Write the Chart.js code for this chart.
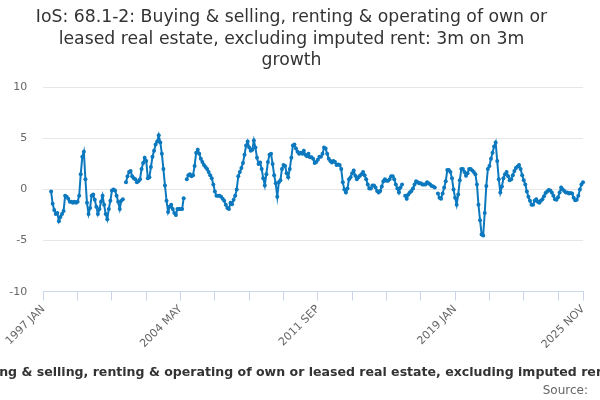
<!DOCTYPE html>
<html>
<head>
<meta charset="utf-8">
<script src="https://cdn.jsdelivr.net/npm/chart.js@4.4.1/dist/chart.umd.min.js"></script>
<style>
    html, body { margin: 0; padding: 0; background: #fff; }
</style>
</head>
<body>
<canvas id="growthChart" width="600" height="400"></canvas>
<script>
const monthNames = ["JAN", "FEB", "MAR", "APR", "MAY", "JUN", "JUL", "AUG", "SEP", "OCT", "NOV", "DEC"];
const firstYear = 1997;
const lastYear = 2025;
const lastMonth = 11;

// one label per month, 1997 JAN .. 2025 NOV
const categories = [];
for (let y = firstYear; y <= lastYear; y++) {
    for (let m = 0; m < 12; m++) {
        if (y === lastYear && m >= lastMonth) break;
        categories.push(y + " " + monthNames[m]);
    }
}

// 3m on 3m growth, % (null = no value)
const growth = [
    null, null, null, null, null, -0.2, -1.4, -2.0, -2.4, -2.3, -3.1, -2.7,   // 1997
    -2.4, -2.1, -0.6, -0.7, -0.9, -1.2, -1.2, -1.3, -1.2, -1.3, -1.2, -0.6,   // 1998
    1.5, 3.2, 3.7, 1.0, -1.3, -2.4, -1.8, -0.6, -0.5, -1.0, -1.7, -2.4,       // 1999
    -1.9, -1.2, -0.6, -1.5, -2.4, -2.9, -1.9, -1.1, -0.1, 0.0, -0.1, -0.6,    // 2000
    -1.2, -1.9, -1.1, -0.95, null, 0.7, 1.3, 1.7, 1.8, 1.3, 1.1, 1.0,         // 2001
    0.7, 0.8, 1.0, 2.0, 2.6, 3.1, 2.8, 1.1, 1.2, 2.2, 3.2, 3.8,               // 2002
    4.4, 4.7, 5.3, 4.6, 3.5, 2.0, 0.4, -1.1, -2.2, -1.7, -1.5, -1.9,          // 2003
    -2.3, -2.5, -1.9, -1.9, -1.9, -1.9, -0.85, null, 1.0, 1.4, 1.5, 1.3,      // 2004
    1.4, 2.3, 3.6, 3.9, 3.5, 3.0, 2.7, 2.4, 2.2, 2.0, 1.7, 1.4,               // 2005
    1.1, 0.5, -0.2, -0.6, -0.6, -0.6, -0.7, -0.9, -1.1, -1.5, -1.8, -1.9,     // 2006
    -1.3, -1.45, -1.0, -0.6, 0.0, 1.3, 1.7, 2.1, 2.6, 3.4, 4.3, 4.7,          // 2007
    4.1, 3.8, 3.9, 4.8, 4.1, 3.1, 2.5, 2.65, 2.0, 1.1, 0.4, 1.5,              // 2008
    2.7, 3.4, 3.5, 2.5, 1.4, 0.6, -0.7, 0.7, 0.9, 2.0, 2.4, 2.3,              // 2009
    1.6, 1.2, 2.0, 3.1, 4.3, 4.4, 4.0, 3.7, 3.5, 3.6, 3.5, 3.8,               // 2010
    3.4, 3.25, 3.5, 3.15, 3.15, 3.0, 2.6, 2.7, 2.9, 3.2, 3.2, 3.5,            // 2011
    4.1, 4.0, 3.5, 3.0, 2.8, 2.65, 2.8, 2.7, 2.4, 2.45, 2.4, 2.0,             // 2012
    0.7, 0.0, -0.3, 0.1, 1.0, 1.2, 1.6, 1.85, 1.35, 1.0, 1.2, 1.35,           // 2013
    1.5, 1.7, 1.4, 1.0, 0.5, 0.1, 0.1, 0.4, 0.4, 0.2, -0.15, -0.3,            // 2014
    -0.15, 0.3, 0.8, 1.0, 0.85, 0.85, 1.0, 1.3, 1.3, 1.0, 0.5, 0.1,           // 2015
    -0.3, 0.2, 0.5, null, -0.6, -0.9, -0.5, -0.3, -0.15, 0.1, 0.5, 0.8,       // 2016
    0.7, 0.6, 0.6, 0.5, 0.5, 0.5, 0.7, 0.6, 0.5, 0.35, 0.3, 0.2,              // 2017
    null, -0.4, -0.8, -0.9, -0.4, 0.2, 0.8, 1.9, 1.9, 1.7, 1.1, 0.0,          // 2018
    -0.8, -1.5, -0.5, 0.9, 2.0, 2.0, 1.7, 1.35, 1.6, 2.0, 2.0, 1.85,          // 2019
    1.7, 1.5, 0.5, -1.5, -3.0, -4.4, -4.5, -2.3, 0.35, 2.0, 2.3, 3.0,         // 2020
    3.6, 4.2, 4.6, 2.8, 1.0, -0.3, 0.3, 1.1, 1.5, 1.7, 1.3, 0.9,              // 2021
    1.0, 1.4, 1.8, 2.1, 2.25, 2.4, 2.0, 1.4, 0.9, 0.5, -0.2, -0.7,            // 2022
    -1.1, -1.5, -1.5, -1.1, -0.95, -1.2, -1.3, -1.1, -0.95, -0.65, -0.35, -0.2, // 2023
    -0.05, -0.1, -0.3, -0.6, -0.95, -1.0, -0.75, -0.3, 0.2, 0.0, -0.15, -0.3, // 2024
    -0.3, -0.4, -0.35, -0.4, -0.8, -1.05, -1.0, -0.6, 0.0, 0.5, 0.7           // 2025
];

const tickLabels = ["1997 JAN", "2004 MAY", "2011 SEP", "2019 JAN", "2025 NOV"];
const yTicks = [-10, -5, 0, 5, 10];

const titleLines = [
    "IoS: 68.1-2: Buying & selling, renting & operating of own or",
    "leased real estate, excluding imputed rent: 3m on 3m",
    "growth"
];
const axisTitle = "Buying & selling, renting & operating of own or leased real estate, excluding imputed rent";
const sourceText = "Source:";

const fontFamily = '"DejaVu Sans", "Lucida Grande", sans-serif';

// axis title and source line drawn without squeezing, like the original
const bottomText = {
    id: "bottomText",
    afterDraw(chart) {
        const c = chart.ctx;
        c.save();
        c.textBaseline = "middle";
        c.fillStyle = "#333333";
        c.font = "bold 12.55px " + fontFamily;
        c.textAlign = "center";
        c.fillText(axisTitle, 289.5, 373);
        c.fillStyle = "#666666";
        c.font = "12px " + fontFamily;
        c.textAlign = "right";
        c.fillText(sourceText, 588, 391);
        c.restore();
    }
};

const ctx = document.getElementById("growthChart").getContext("2d");

const chart = new Chart(ctx, {
    type: "line",
    data: {
        labels: categories,
        datasets: [{
            label: "3m on 3m growth",
            data: growth,
            borderColor: "#0c78be",
            backgroundColor: "#0c78be",
            borderWidth: 2,
            pointRadius: 2,
            pointBorderWidth: 0,
            pointBackgroundColor: "#0c78be",
            spanGaps: false,
            tension: 0
        }]
    },
    options: {
        responsive: false,
        animation: false,
        layout: { padding: { left: 0, right: 17, top: 0, bottom: 0 } },
        plugins: {
            legend: { display: false },
            tooltip: { enabled: false },
            title: {
                display: true,
                text: titleLines,
                color: "#333333",
                font: { family: fontFamily, size: 17.25, weight: "normal", lineHeight: 1.25 },
                padding: { top: 7, bottom: 15.6 }
            }
        },
        scales: {
            x: {
                type: "category",
                grid: {
                    display: true,
                    drawOnChartArea: false,
                    drawTicks: true,
                    tickLength: 9,
                    color: "#ccd6eb"
                },
                border: { display: true, color: "#ccd6eb", width: 1 },
                ticks: {
                    autoSkip: false,
                    minRotation: 45,
                    maxRotation: 45,
                    padding: 2,
                    color: "#666666",
                    font: { family: fontFamily, size: 11 },
                    callback: function(value, index) {
                        const label = categories[index];
                        if (tickLabels.includes(label)) return label;
                        if (index % 22 === 0) return "";
                        return null;
                    }
                },
                afterFit(scale) { scale.height = 108.3; }
            },
            y: {
                min: yTicks[0],
                max: yTicks[yTicks.length - 1],
                afterBuildTicks(scale) { scale.ticks = yTicks.map(v => ({ value: v })); },
                ticks: {
                    padding: 16,
                    color: "#666666",
                    font: { family: fontFamily, size: 11 }
                },
                grid: { color: "#e6e6e6", drawTicks: false },
                border: { display: false },
                afterFit(scale) { scale.width = 43.3; }
            }
        }
    },
    plugins: [bottomText]
});
</script>
</body>
</html>
